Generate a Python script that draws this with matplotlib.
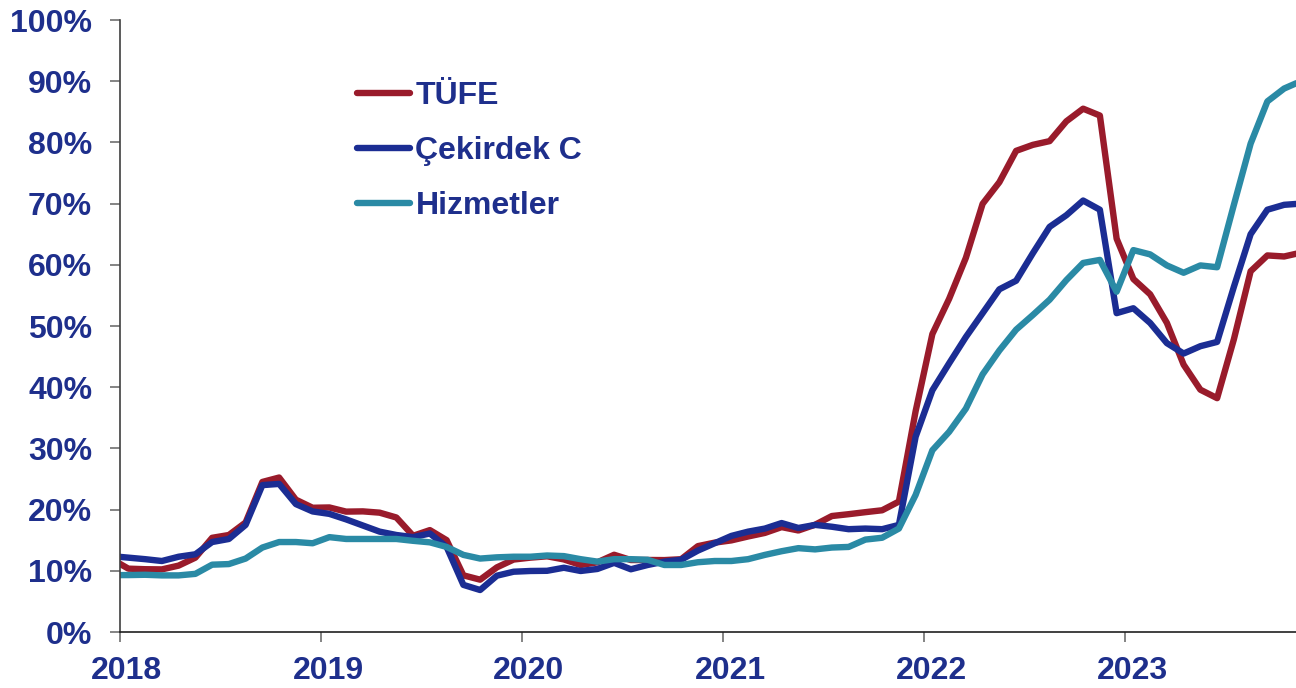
import numpy as np
import matplotlib
matplotlib.use("Agg")
import matplotlib.pyplot as plt
import matplotlib.transforms as mtransforms

# Monthly annual inflation (%), Dec 2017 .. Nov 2023
start_year, start_month = 2017, 12
tufe = [11.92,
        10.35, 10.26, 10.23, 10.85, 12.15, 15.39, 15.85, 17.90, 24.52, 25.24, 21.62, 20.30,
        20.35, 19.67, 19.71, 19.50, 18.71, 15.72, 16.65, 15.01, 9.26, 8.55, 10.56, 11.84,
        12.15, 12.37, 11.86, 10.94, 11.39, 12.62, 11.76, 11.77, 11.75, 11.89, 14.03, 14.60,
        14.97, 15.61, 16.19, 17.14, 16.59, 17.53, 18.95, 19.25, 19.58, 19.89, 21.31, 36.08,
        48.69, 54.44, 61.14, 69.97, 73.50, 78.62, 79.60, 80.21, 83.45, 85.51, 84.39, 64.27,
        57.68, 55.18, 50.51, 43.68, 39.59, 38.21, 47.83, 58.94, 61.53, 61.36, 61.98]
cekirdek_c = [12.4,
              12.15, 11.9, 11.6, 12.3, 12.7, 14.7, 15.2, 17.5, 24.0, 24.2, 20.9, 19.7,
              19.3, 18.4, 17.4, 16.4, 15.85, 15.5, 16.1, 13.9, 7.7, 6.86, 9.2, 9.85,
              9.97, 10.0, 10.5, 9.97, 10.3, 11.3, 10.25, 10.95, 11.5, 11.8, 13.3, 14.5,
              15.7, 16.4, 16.9, 17.8, 17.0, 17.5, 17.2, 16.8, 16.9, 16.8, 17.5, 31.9,
              39.5, 43.9, 48.2, 52.1, 56.0, 57.4, 61.9, 66.2, 68.1, 70.5, 69.0, 52.1,
              52.9, 50.5, 47.2, 45.5, 46.7, 47.4, 56.4, 65.0, 69.0, 69.8, 70.0]
hizmetler = [9.3,
             9.3, 9.35, 9.25, 9.25, 9.5, 11.0, 11.1, 12.0, 13.8, 14.7, 14.7, 14.5,
             15.5, 15.2, 15.2, 15.2, 15.2, 14.9, 14.65, 13.9, 12.6, 12.0, 12.2, 12.3,
             12.3, 12.5, 12.4, 11.9, 11.5, 11.9, 11.9, 11.8, 10.95, 10.95, 11.4, 11.6,
             11.6, 11.9, 12.6, 13.2, 13.7, 13.5, 13.8, 13.9, 15.1, 15.4, 16.9, 22.4,
             29.7, 32.7, 36.5, 42.1, 46.0, 49.4, 51.8, 54.3, 57.5, 60.3, 60.8, 55.6,
             62.4, 61.7, 59.9, 58.7, 59.9, 59.6, 69.8, 79.8, 86.7, 88.8, 90.0]
series_labels = ["TÜFE", "Çekirdek C", "Hizmetler"]
year_labels = ["2018", "2019", "2020", "2021", "2022", "2023"]
y_ticks = list(range(0, 101, 10))

colors = ["#991B2B", "#1B2D93", "#2A8AA5"]
label_color = "#1E2F8C"

plt.rcParams['font.family'] = ['Liberation Sans', 'DejaVu Sans']
plt.rcParams['font.weight'] = 'bold'

fig = plt.figure(figsize=(12.96, 6.88), dpi=100)
ax = fig.add_axes([120/1296, (688-632)/688, 1176/1296, 612/688])

# mid-month positions in months since Jan 2018
x = np.arange(len(tufe)) - 1 + 0.5
for vals, lab, c in zip([tufe, cekirdek_c, hizmetler], series_labels, colors):
    ax.plot(x, vals, color=c, lw=4.6, label=lab, solid_capstyle='butt')

ax.set_xlim(0, 1176/16.75)
ax.set_ylim(0, 100)
ax.set_xticks([12*i for i in range(len(year_labels))])
ax.set_xticklabels(year_labels)
ax.set_yticks(y_ticks)
ax.set_yticklabels([f"{v}%" for v in y_ticks])

for s in ["top", "right"]:
    ax.spines[s].set_visible(False)
ax.spines["left"].set_color("#404040")
ax.spines["bottom"].set_color("#202020")
ax.spines["left"].set_linewidth(1.2)
ax.spines["bottom"].set_linewidth(1.2)
ax.tick_params(axis='both', colors="#707070", length=7, width=1.2,
               labelcolor=label_color, labelsize=23)
ax.tick_params(axis='y', pad=13)
ax.tick_params(axis='x', pad=10)
offset = mtransforms.ScaledTranslation(7/100, 0, fig.dpi_scale_trans)
for t in ax.get_xticklabels():
    t.set_transform(t.get_transform() + offset)
for t in ax.get_xticklabels() + ax.get_yticklabels():
    t.set_fontweight('bold')

leg = ax.legend(loc='upper left', bbox_to_anchor=(357/1296, 1 - 81/688),
                bbox_transform=fig.transFigure, frameon=False,
                fontsize=23, handlelength=1.66, handletextpad=0.17,
                labelspacing=0.79, borderaxespad=0, borderpad=0)
for t in leg.get_texts():
    t.set_color(label_color)
    t.set_fontweight('bold')
for h in leg.get_lines():
    h.set_linewidth(4.6)
    h.set_solid_capstyle('round')

fig.savefig("out.png", dpi=100)
